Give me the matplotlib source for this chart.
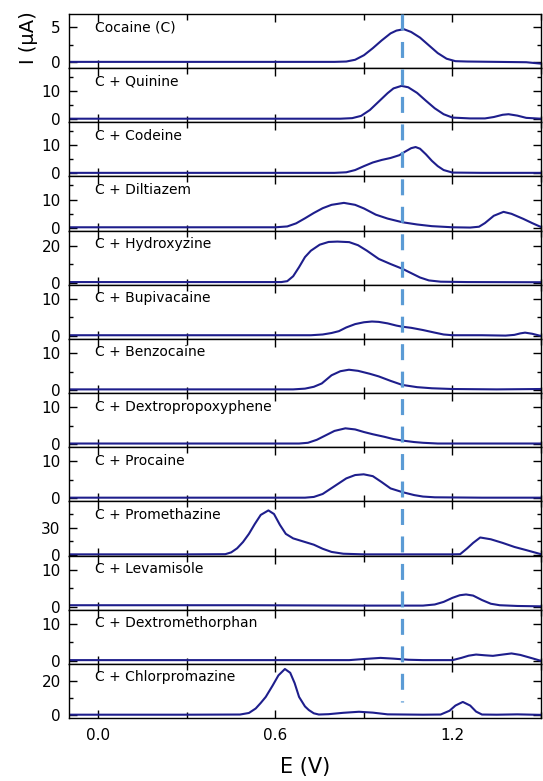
import matplotlib.pyplot as plt
import matplotlib.transforms as mtransforms
from matplotlib.lines import Line2D
from matplotlib.ticker import MultipleLocator

# potential of the cocaine reference peak (dashed line)
E_REF = 1.03

names = ["Cocaine (C)", "C + Quinine", "C + Codeine", "C + Diltiazem",
         "C + Hydroxyzine", "C + Bupivacaine", "C + Benzocaine",
         "C + Dextropropoxyphene", "C + Procaine", "C + Promethazine",
         "C + Levamisole", "C + Dextromethorphan", "C + Chlorpromazine"]

e_cocaine = [-0.1, 0.3, 0.6, 0.8, 0.84, 0.87, 0.9, 0.93, 0.96, 0.99, 1.01, 1.035, 1.06, 1.09,
             1.12, 1.15, 1.18, 1.21, 1.25, 1.35, 1.45, 1.5]
i_cocaine = [0.05, 0.05, 0.05, 0.05, 0.1, 0.35, 1.0, 2.0, 3.1, 4.1, 4.5, 4.7, 4.3, 3.5,
             2.4, 1.3, 0.5, 0.15, 0.1, 0.05, 0.0, -0.2]

e_quinine = [-0.1, 0.5, 0.82, 0.86, 0.89, 0.92, 0.95, 0.98, 1.0, 1.027, 1.05, 1.08, 1.11, 1.14,
             1.17, 1.2, 1.26, 1.31, 1.34, 1.37, 1.39, 1.42, 1.45, 1.5]
i_quinine = [0.2, 0.2, 0.2, 0.4, 1.2, 3.3, 6.3, 9.3, 11.0, 11.9, 11.4, 9.4, 6.6, 3.9,
             1.8, 0.6, 0.3, 0.3, 0.8, 1.6, 1.8, 1.3, 0.5, 0.2]

e_codeine = [-0.1, 0.5, 0.8, 0.84, 0.87, 0.9, 0.93, 0.96, 0.99, 1.02, 1.04, 1.06, 1.075, 1.09,
             1.11, 1.13, 1.15, 1.17, 1.2, 1.3, 1.5]
i_codeine = [0.2, 0.2, 0.2, 0.4, 1.2, 2.6, 3.9, 4.8, 5.5, 6.5, 7.8, 9.0, 9.4, 8.8,
             6.8, 4.5, 2.6, 1.2, 0.3, 0.2, 0.2]

e_diltiazem = [-0.1, 0.5, 0.6, 0.64, 0.67, 0.7, 0.73, 0.76, 0.79, 0.832, 0.87, 0.9, 0.94, 0.98,
               1.03, 1.08, 1.13, 1.2, 1.26, 1.29, 1.31, 1.34, 1.373, 1.4, 1.44, 1.47, 1.5]
i_diltiazem = [0.1, 0.1, 0.1, 0.4, 1.5, 3.3, 5.2, 6.9, 8.1, 8.8, 8.1, 6.8, 4.6, 3.2,
               1.9, 1.1, 0.5, 0.1, 0.0, 0.3, 1.6, 4.2, 5.6, 4.9, 3.1, 1.6, 0.2]

e_hydroxyzine = [-0.1, 0.5, 0.62, 0.64, 0.66, 0.68, 0.7, 0.72, 0.75, 0.78, 0.81, 0.85, 0.88,
                 0.91, 0.95, 0.99, 1.03, 1.06, 1.09, 1.12, 1.16, 1.25, 1.5]
i_hydroxyzine = [0.3, 0.3, 0.3, 0.8, 3.5, 8.5, 14.0, 17.5, 20.8, 22.3, 22.5, 22.2, 20.5,
                 17.5, 13.0, 10.2, 7.6, 5.2, 2.8, 1.2, 0.5, 0.3, 0.2]

e_bupivacaine = [-0.1, 0.5, 0.72, 0.76, 0.79, 0.815, 0.84, 0.87, 0.9, 0.927, 0.95, 0.98, 1.01,
                 1.03, 1.06, 1.1, 1.14, 1.17, 1.2, 1.3, 1.38, 1.41, 1.43, 1.446, 1.47, 1.5]
i_bupivacaine = [0.2, 0.2, 0.2, 0.4, 0.8, 1.3, 2.3, 3.2, 3.7, 3.9, 3.8, 3.4, 2.8,
                 2.5, 2.2, 1.6, 0.9, 0.4, 0.2, 0.2, 0.1, 0.3, 0.7, 0.9, 0.6, 0.0]

e_benzocaine = [-0.1, 0.5, 0.66, 0.7, 0.73, 0.757, 0.79, 0.82, 0.849, 0.88, 0.92, 0.95, 0.99,
                1.03, 1.08, 1.13, 1.2, 1.35, 1.5]
i_benzocaine = [0.2, 0.2, 0.2, 0.4, 0.9, 1.8, 4.0, 5.1, 5.5, 5.2, 4.4, 3.7, 2.5,
                1.4, 0.8, 0.5, 0.3, 0.2, 0.3]

e_dextroprop = [-0.1, 0.5, 0.68, 0.71, 0.74, 0.77, 0.8, 0.837, 0.87, 0.9, 0.93, 0.97, 1.0,
                1.03, 1.07, 1.1, 1.15, 1.3, 1.5]
i_dextroprop = [0.2, 0.2, 0.2, 0.4, 1.2, 2.4, 3.6, 4.3, 4.0, 3.3, 2.7, 2.0, 1.4,
                1.0, 0.6, 0.4, 0.2, 0.2, 0.2]

e_procaine = [-0.1, 0.5, 0.7, 0.73, 0.76, 0.8, 0.84, 0.87, 0.899, 0.93, 0.96, 0.99, 1.03,
              1.07, 1.1, 1.14, 1.3, 1.5]
i_procaine = [0.2, 0.2, 0.2, 0.4, 1.2, 3.3, 5.4, 6.3, 6.5, 6.0, 4.4, 2.7, 1.7,
              0.9, 0.5, 0.3, 0.2, 0.2]

e_promethazine = [-0.1, 0.3, 0.43, 0.45, 0.47, 0.49, 0.51, 0.53, 0.55, 0.576, 0.595, 0.615,
                  0.635, 0.66, 0.7, 0.73, 0.76, 0.79, 0.83, 0.9, 1.0, 1.2, 1.226, 1.25, 1.27,
                  1.294, 1.33, 1.37, 1.41, 1.45, 1.5]
i_promethazine = [0.3, 0.3, 0.5, 2.5, 7, 14, 23, 34, 44, 49, 45, 33,
                  23, 18, 14, 11, 6.5, 3, 1, 0.3, 0.3, 0.3, 0.5, 7, 13,
                  19, 17, 13, 8.5, 5, 0.5]

e_levamisole = [-0.1, 0.5, 0.9, 1.1, 1.14, 1.17, 1.2, 1.225, 1.246, 1.27, 1.3, 1.33, 1.36,
                1.42, 1.5]
i_levamisole = [0.4, 0.4, 0.3, 0.3, 0.6, 1.3, 2.4, 3.1, 3.3, 3.0, 1.8, 0.8, 0.4,
                0.2, 0.1]

e_dextrometh = [-0.1, 0.5, 0.85, 0.9, 0.956, 1.0, 1.05, 1.1, 1.2, 1.23, 1.255, 1.28, 1.31,
                1.337, 1.37, 1.4, 1.43, 1.47, 1.5]
i_dextrometh = [0.2, 0.2, 0.2, 0.5, 0.8, 0.6, 0.3, 0.2, 0.2, 0.8, 1.4, 1.7, 1.5,
                1.35, 1.7, 2.0, 1.6, 0.7, 0.0]

e_chlorprom = [-0.1, 0.3, 0.48, 0.51, 0.533, 0.55, 0.567, 0.59, 0.61, 0.632, 0.65, 0.665,
               0.68, 0.7, 0.713, 0.73, 0.747, 0.78, 0.83, 0.883, 0.93, 0.98, 1.1, 1.16,
               1.19, 1.21, 1.235, 1.26, 1.28, 1.3, 1.35, 1.42, 1.5]
i_chlorprom = [0.2, 0.2, 0.3, 1.2, 3.8, 7, 10.5, 17, 23, 26.7, 24.5, 18.5,
               10.5, 5, 2.9, 1.0, 0.3, 0.5, 1.3, 1.9, 1.4, 0.4, 0.2, 0.3,
               2.5, 5.5, 7.6, 5.5, 2.0, 0.3, 0.2, 0.4, 0.1]

potentials = [e_cocaine, e_quinine, e_codeine, e_diltiazem, e_hydroxyzine, e_bupivacaine,
              e_benzocaine, e_dextroprop, e_procaine, e_promethazine, e_levamisole,
              e_dextrometh, e_chlorprom]
currents = [i_cocaine, i_quinine, i_codeine, i_diltiazem, i_hydroxyzine, i_bupivacaine,
            i_benzocaine, i_dextroprop, i_procaine, i_promethazine, i_levamisole,
            i_dextrometh, i_chlorprom]

# axis settings per panel
ylims = [(-0.85, 6.85), (-1.1, 18.2), (-1.1, 18.2), (-1.1, 18.2), (-1.2, 28.5),
         (-0.8, 13.8), (-0.8, 13.8), (-0.8, 13.8), (-0.8, 13.8), (-1.0, 59),
         (-0.8, 13.8), (-0.8, 13.8), (-1.7, 29.7)]
ysteps = [5, 10, 10, 10, 20, 10, 10, 10, 10, 30, 10, 10, 20]

navy = "#1e1e8c"

fig, axes = plt.subplots(13, 1, figsize=(5.43, 7.81), dpi=100, sharex=True)
fig.subplots_adjust(left=0.127, right=0.9963, top=0.982, bottom=0.0807, hspace=0)

for ax, name, e, cur, lim, step in zip(axes, names, potentials, currents, ylims, ysteps):
    ax.plot(e, cur, color=navy, lw=1.5, solid_joinstyle="round")
    ax.set_xlim(-0.1, 1.5)
    ax.set_ylim(lim)
    ax.yaxis.set_major_locator(MultipleLocator(step))
    ax.yaxis.set_minor_locator(MultipleLocator(step / 2))
    ax.xaxis.set_major_locator(MultipleLocator(0.6))
    ax.xaxis.set_minor_locator(MultipleLocator(0.3))
    ax.tick_params(axis="y", which="both", direction="in", left=True, right=True,
                   labelsize=11, pad=6, width=1)
    ax.tick_params(axis="y", which="major", length=6)
    ax.tick_params(axis="y", which="minor", length=3)
    ax.tick_params(axis="x", which="both", direction="in", top=True, bottom=True,
                   labelsize=11, pad=7, width=1)
    ax.tick_params(axis="x", which="major", length=6)
    ax.tick_params(axis="x", which="minor", length=4)
    for sp in ax.spines.values():
        sp.set_linewidth(1.0)
    ax.text(0.055, 0.88, name, transform=ax.transAxes, fontsize=10, va="top", ha="left")

axes[-1].set_xlabel("E (V)", fontsize=15, labelpad=10)
fig.text(28 / 543, 1 - 38 / 781, "I (µA)", rotation=90, ha="center", va="center", fontsize=14)

trans = mtransforms.blended_transform_factory(axes[0].transData, fig.transFigure)
fig.add_artist(Line2D([E_REF, E_REF], [0.982, 0.101], transform=trans, color="#5b9bd5",
                      lw=2.3, dashes=(5, 3.6)))

fig.savefig("out.png", dpi=100)
